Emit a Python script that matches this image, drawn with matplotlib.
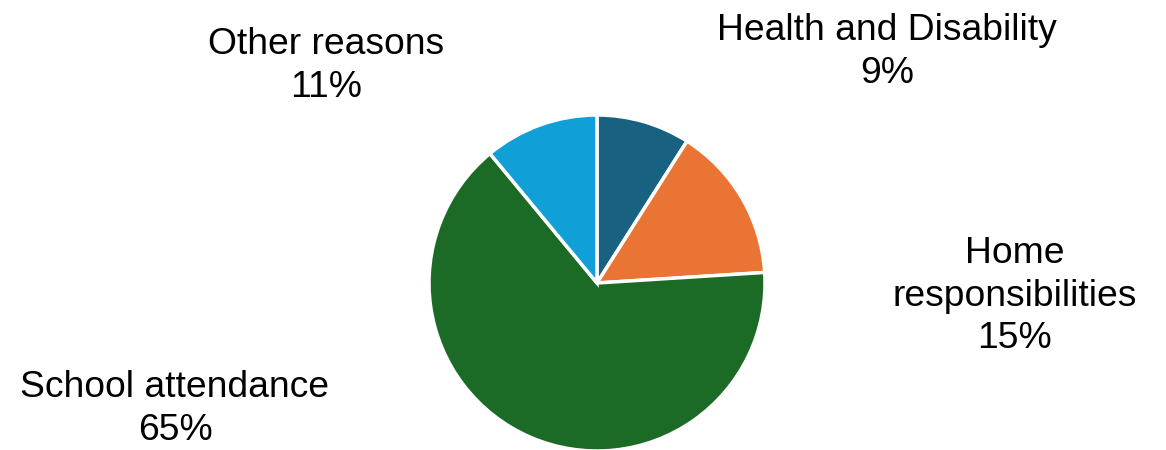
import matplotlib
matplotlib.use("Agg")
import matplotlib.pyplot as plt

categories = ["Health and Disability", "Home\nresponsibilities", "School attendance", "Other reasons"]
values = [9, 15, 65, 11]
colors = ["#186180", "#EA7433", "#1B6B27", "#119FD7"]

W, H = 1166, 450
fig = plt.figure(figsize=(W / 100, H / 100), dpi=100)
ax = fig.add_axes([0, 0, 1, 1])

cx, cy, r = 597, H - 283, 168
ax.pie(values, colors=colors, startangle=90, counterclock=False,
       center=(cx, cy), radius=r, frame=True,
       wedgeprops=dict(edgecolor="white", linewidth=2.5))
ax.set_xlim(0, W)
ax.set_ylim(0, H)
ax.set_aspect("equal")
ax.axis("off")

label_pos = [(887, H - 52), (1015, H - 296), (175, H - 409), (326, H - 66)]
for cat, v, (x, y) in zip(categories, values, label_pos):
    ax.text(x, y, f"{cat}\n{v}%", ha="center", va="center", fontsize=26.8,
            family="Liberation Sans", color="black", linespacing=1.28)

fig.savefig("out.png", dpi=100)
